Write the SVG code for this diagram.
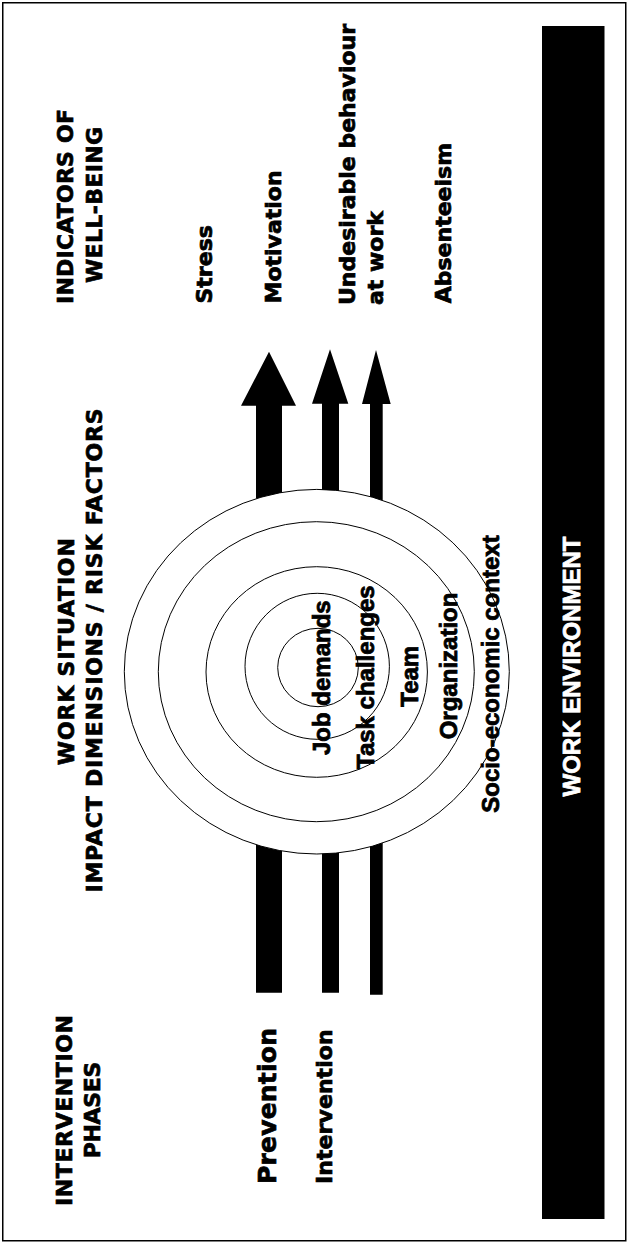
<svg xmlns="http://www.w3.org/2000/svg" width="629" height="1243" viewBox="0 0 629 1243">
<style>
.h{font-family:"DejaVu Sans","Verdana",sans-serif;font-weight:bold;font-size:22px;fill:#000;stroke:#000;stroke-width:0.7px}
.c{font-family:"Liberation Sans",Arial,sans-serif;font-weight:bold;font-size:24px;fill:#000;stroke:#000;stroke-width:0.8px}
.w{fill:#fff;stroke:#fff}
.ring{fill:#fff;stroke:#000;stroke-width:1}
.arrow{fill:#000;stroke:none}
</style>
<rect x="2.75" y="2.75" width="623" height="1238" fill="#fff" stroke="#000" stroke-width="1.5"/>
<g id="work-environment">
<rect x="542" y="26" width="62.5" height="1193" fill="#000"/>
<text class="c w" text-anchor="middle" transform="translate(580,666.5) rotate(-90)">WORK ENVIRONMENT</text>
</g>
<g id="connectors">
<polygon class="arrow" points="256,992.7 282,992.7 282,405.7 296,405.7 269,351.7 241,405.7 256,405.7"/>
<polygon class="arrow" points="322,992.7 339,992.7 339,403.7 348.3,403.7 330,349.3 312,403.7 322,403.7"/>
<polygon class="arrow" points="370,994.7 382.7,994.7 382.7,404 390.7,404 376,350 362,404 370,404"/>
</g>
<g id="rings">
<ellipse class="ring" cx="316.8" cy="671.7" rx="192.5" ry="182.3"/>
<ellipse class="ring" cx="316.3" cy="671.7" rx="158" ry="150"/>
<ellipse class="ring" cx="316.7" cy="672" rx="110.7" ry="105.3"/>
<ellipse class="ring" cx="317.2" cy="666.3" rx="72.2" ry="73"/>
<ellipse class="ring" cx="318" cy="667.5" rx="40.3" ry="39.2"/>
</g>
<g id="ring-labels">
<text id="job-demands" class="c" transform="translate(330,755) rotate(-90)">Job demands</text>
<text id="task-challenges" class="c" transform="translate(374,769) rotate(-90)">Task challenges</text>
<text id="team" class="c" transform="translate(418,706.7) rotate(-90)">Team</text>
<text id="organization" class="c" transform="translate(456.5,739.3) rotate(-90)">Organization</text>
<text id="socio-economic" class="c" transform="translate(499,812.7) rotate(-90)">Socio-economic context</text>
</g>
<g id="indicators-heading">
<text class="h" text-anchor="middle" textLength="195" transform="translate(73,206.5) rotate(-90)">INDICATORS OF</text>
<text class="h" text-anchor="middle" textLength="156" transform="translate(102,205) rotate(-90)">WELL-BEING</text>
</g>
<g id="work-situation-heading">
<text class="h" text-anchor="middle" textLength="227" transform="translate(74,651.7) rotate(-90)">WORK SITUATION</text>
<text class="h" text-anchor="middle" textLength="484" transform="translate(102,650.5) rotate(-90)">IMPACT DIMENSIONS / RISK FACTORS</text>
</g>
<g id="phases-heading">
<text class="h" text-anchor="middle" textLength="191" transform="translate(72,1110.5) rotate(-90)">INTERVENTION</text>
<text class="h" text-anchor="middle" textLength="96.6" transform="translate(100,1110) rotate(-90)">PHASES</text>
</g>
<g id="stress"><text class="h" transform="translate(211.5,303.5) rotate(-90)">Stress</text></g>
<g id="motivation"><text class="h" transform="translate(280.5,303.5) rotate(-90)">Motivation</text></g>
<g id="undesirable">
<text class="h" transform="translate(354.5,305) rotate(-90)">Undesirable behaviour</text>
<text class="h" transform="translate(383,305) rotate(-90)">at work</text>
</g>
<g id="absenteeism"><text class="h" transform="translate(451,303.3) rotate(-90)">Absenteeism</text></g>
<g id="prevention"><text class="h" style="font-size:25px" textLength="156" transform="translate(275.5,1184) rotate(-90)">Prevention</text></g>
<g id="intervention"><text class="h" textLength="154.7" transform="translate(332,1184) rotate(-90)">Intervention</text></g>
</svg>
